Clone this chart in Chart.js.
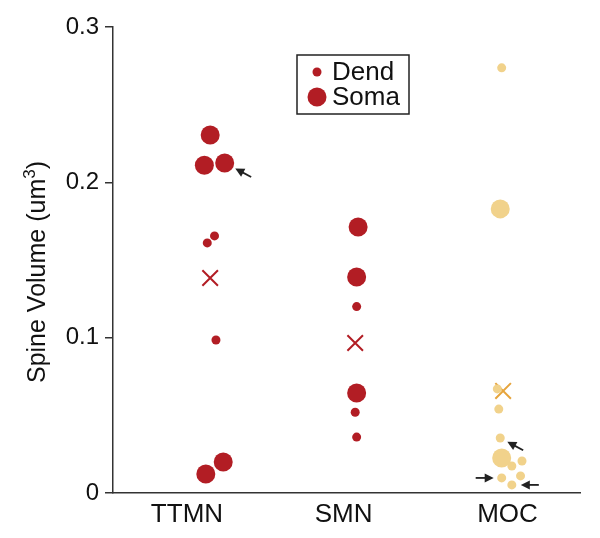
<!DOCTYPE html>
<html>
<head>
<meta charset="utf-8">
<script src="https://cdn.jsdelivr.net/npm/chart.js@4.4.1/dist/chart.umd.min.js"></script>
<style>
  html, body { margin: 0; padding: 0; background: #fff; }
  #wrap { width: 600px; height: 538px; }
</style>
</head>
<body>
<div id="wrap"><canvas id="c" width="600" height="538"></canvas></div>
<script>
/* ================== DATA ================== */
const categories = ["TTMN", "SMN", "MOC"];
const categoryTickPos = [0.82, 1.9, 3.03];
const yTicks = [0, 0.1, 0.2, 0.3];
const yTitle = ["Spine Volume (um", "3", ")"];

// [jitter from category centre, spine volume]
const ttmnDend = [[-0.04, 0.161], [0.01, 0.1655], [0.02, 0.0985]];
const ttmnSoma = [[-0.02, 0.2305], [-0.06, 0.211], [0.08, 0.2125], [0.07, 0.020], [-0.05, 0.0122]];
const ttmnMean = [[-0.02, 0.1384]];

const smnDend = [[-0.01, 0.120], [-0.02, 0.052], [-0.01, 0.036]];
const smnSoma = [[0.0, 0.1713], [-0.01, 0.139], [-0.01, 0.0644]];
const smnMean = [[-0.02, 0.0966]];

const mocDend = [[-0.01, 0.2737], [-0.04, 0.067], [-0.03, 0.054], [-0.02, 0.0354],
                 [0.06, 0.0174], [0.13, 0.0206], [-0.01, 0.0097], [0.06, 0.0052], [0.12, 0.011]];
const mocSoma = [[-0.02, 0.1829], [-0.01, 0.0225]];
const mocMean = [[0.0, 0.0657]];

// arrows: target point (category, jitter, value), direction of tail (deg), gap from centre
const arrows = [
  { cat: 1, j: 0.08, v: 0.2125, ang: 28, gap: 12 },
  { cat: 3, j: -0.02, v: 0.0354, ang: 28, gap: 8 },
  { cat: 3, j: -0.01, v: 0.0097, ang: 180, gap: 8 },
  { cat: 3, j: 0.06, v: 0.0052, ang: 0, gap: 9 }
];

/* ================== STYLE ================== */
const RED = "#b21d24";
const TAN = "#f1d28b";
const ORANGE = "#e6a43c";
const FONT = "'Liberation Sans', Arial, sans-serif";

function pts(cat, arr) {
  return arr.map(p => ({ x: cat + p[0], y: p[1] }));
}

function dots(label, data, color, r) {
  return {
    label: label,
    data: data,
    backgroundColor: color,
    borderColor: color,
    borderWidth: 0,
    pointRadius: r,
    pointHoverRadius: r
  };
}

function cross(data, color) {
  return {
    label: "mean",
    data: data,
    pointStyle: "crossRot",
    pointRadius: 11,
    pointHoverRadius: 11,
    borderColor: color,
    borderWidth: 2,
    backgroundColor: color
  };
}

const datasets = [
  dots("Dend", pts(1, ttmnDend).concat(pts(2, smnDend)), RED, 4.5),
  dots("Soma", pts(1, ttmnSoma).concat(pts(2, smnSoma)), RED, 9.5),
  dots("MOC Dend", pts(3, mocDend), TAN, 4.5),
  dots("MOC Soma", pts(3, mocSoma), TAN, 9.5),
  cross(pts(1, ttmnMean).concat(pts(2, smnMean)), RED),
  cross(pts(3, mocMean), ORANGE)
];

/* ================== PLUGINS ================== */
const legendBox = {
  id: "legendBox",
  afterDraw(chart) {
    const ctx = chart.ctx;
    ctx.save();
    ctx.strokeStyle = "#222";
    ctx.lineWidth = 1.5;
    ctx.strokeRect(297, 55, 112, 59);
    const items = [chart.data.datasets[0], chart.data.datasets[1]];
    ctx.font = "26px " + FONT;
    ctx.textBaseline = "middle";
    items.forEach((ds, i) => {
      const y = 72 + i * 25;
      ctx.fillStyle = ds.backgroundColor;
      ctx.beginPath();
      ctx.arc(317, y, ds.pointRadius, 0, Math.PI * 2);
      ctx.fill();
      ctx.fillStyle = "#111";
      ctx.fillText(ds.label, 332, y + 1);
    });
    ctx.restore();
  }
};

// y title with a real superscript
const yTitleText = {
  id: "yTitleText",
  afterDraw(chart) {
    const ctx = chart.ctx;
    const area = chart.chartArea;
    ctx.save();
    ctx.translate(45, (area.top + area.bottom) / 2 + 12);
    ctx.rotate(-Math.PI / 2);
    ctx.fillStyle = "#111";
    ctx.textBaseline = "alphabetic";
    const big = "25px " + FONT, small = "17px " + FONT;
    ctx.font = big;
    const w0 = ctx.measureText(yTitle[0]).width;
    const w2 = ctx.measureText(yTitle[2]).width;
    ctx.font = small;
    const w1 = ctx.measureText(yTitle[1]).width;
    let x = -(w0 + w1 + w2) / 2;
    ctx.font = big;
    ctx.fillText(yTitle[0], x, 0);
    x += w0;
    ctx.font = small;
    ctx.fillText(yTitle[1], x, -10);
    x += w1;
    ctx.font = big;
    ctx.fillText(yTitle[2], x, 0);
    ctx.restore();
  }
};

const arrowMarks = {
  id: "arrowMarks",
  afterDatasetsDraw(chart) {
    const ctx = chart.ctx;
    const xs = chart.scales.x, ys = chart.scales.y;
    ctx.save();
    ctx.strokeStyle = "#222";
    ctx.fillStyle = "#222";
    ctx.lineWidth = 1.8;
    arrows.forEach(a => {
      const px = xs.getPixelForValue(a.cat + a.j);
      const py = ys.getPixelForValue(a.v);
      const t = a.ang * Math.PI / 180;
      const cx = Math.cos(t), sy = Math.sin(t);
      const tipX = px + a.gap * cx, tipY = py + a.gap * sy;
      const tailX = tipX + 18 * cx, tailY = tipY + 18 * sy;
      ctx.beginPath();
      ctx.moveTo(tailX, tailY);
      ctx.lineTo(tipX + 5 * cx, tipY + 5 * sy);
      ctx.stroke();
      const nx = -sy, ny = cx;
      ctx.beginPath();
      ctx.moveTo(tipX, tipY);
      ctx.lineTo(tipX + 9 * cx + 4.5 * nx, tipY + 9 * sy + 4.5 * ny);
      ctx.lineTo(tipX + 9 * cx - 4.5 * nx, tipY + 9 * sy - 4.5 * ny);
      ctx.closePath();
      ctx.fill();
    });
    ctx.restore();
  }
};

/* ================== CHART ================== */
Chart.defaults.font.family = FONT;
Chart.defaults.color = "#111";

new Chart(document.getElementById("c"), {
  type: "scatter",
  data: { datasets: datasets },
  options: {
    responsive: false,
    animation: false,
    events: [],
    layout: { padding: { top: 27, right: 20, left: 0, bottom: 0 } },
    plugins: {
      legend: { display: false },
      tooltip: { enabled: false }
    },
    scales: {
      x: {
        type: "linear",
        min: 0.31,
        max: 3.53,
        afterBuildTicks: s => { s.ticks = categoryTickPos.map(v => ({ value: v })); },
        afterFit: s => { s.height = 45; },
        ticks: {
          callback: (v, i) => categories[i],
          font: { size: 26 },
          color: "#111",
          padding: 6,
          maxRotation: 0,
          autoSkip: false
        },
        grid: { display: false, drawTicks: false },
        border: { display: true, color: "#333", width: 1.5 }
      },
      y: {
        min: 0,
        max: 0.3,
        afterBuildTicks: s => { s.ticks = yTicks.map(v => ({ value: v })); },
        afterFit: s => { s.width = 113; },
        ticks: {
          font: { size: 24 },
          color: "#111",
          padding: 6,
          callback: v => String(v)
        },
        grid: {
          display: true,
          drawOnChartArea: false,
          drawTicks: true,
          tickLength: 8,
          color: "#333",
          lineWidth: 1.5
        },
        border: { display: true, color: "#333", width: 1.5 }
      }
    }
  },
  plugins: [legendBox, yTitleText, arrowMarks]
});
</script>
</body>
</html>
